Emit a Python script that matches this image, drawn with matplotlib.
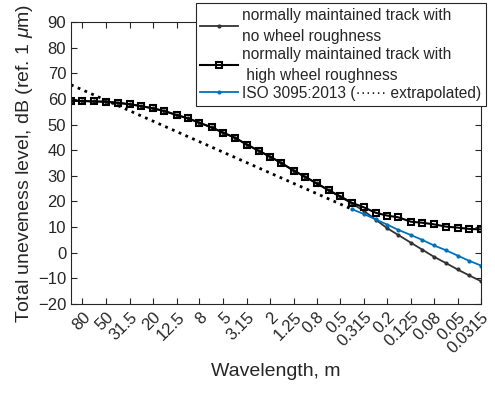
import numpy as np
import matplotlib
matplotlib.use("Agg")
import matplotlib.pyplot as plt
from matplotlib.ticker import FixedLocator, FixedFormatter, NullLocator

plt.rcParams['font.family'] = ['Liberation Sans', 'DejaVu Sans']
plt.rcParams['mathtext.fontset'] = 'custom'
plt.rcParams['mathtext.it'] = 'Liberation Sans:italic'

# one-third octave band wavelengths, m
wavelength = [100, 80, 63, 50, 40, 31.5, 25, 20, 16, 12.5, 10, 8, 6.3, 5, 4,
              3.15, 2.5, 2, 1.6, 1.25, 1, 0.8, 0.63, 0.5, 0.4, 0.315, 0.25,
              0.2, 0.16, 0.125, 0.1, 0.08, 0.063, 0.05, 0.04, 0.0315]

# track + high wheel roughness (squares)
high_wheel = [59.2, 59.2, 59.0, 58.9, 58.5, 57.9, 57.2, 56.3, 55.3, 53.7,
              52.4, 50.7, 48.9, 46.8, 44.9, 42.2, 39.8, 37.5, 35.0, 32.0,
              29.6, 27.1, 24.4, 22.0, 19.5, 17.7, 15.6, 14.5, 13.8, 12.1,
              11.7, 11.1, 10.2, 9.8, 9.3, 9.1]

# track, no wheel roughness
no_wheel = [59.2, 59.2, 59.0, 58.9, 58.5, 57.9, 57.2, 56.3, 55.3, 53.7,
            52.4, 50.7, 48.9, 46.8, 44.9, 42.2, 39.8, 37.5, 35.0, 32.0,
            29.6, 27.1, 24.3, 21.8, 19.2, 16.3, 12.9, 9.6, 6.9, 3.9,
            1.2, -1.5, -4.0, -6.5, -8.8, -11.1]

# ISO 3095:2013 limit
iso_wl = [0.4, 0.315, 0.25, 0.2, 0.16, 0.125, 0.1, 0.08, 0.063, 0.05, 0.04, 0.0315]
iso_val = [17.0, 15.1, 13.0, 11.0, 8.9, 6.9, 5.0, 2.9, 1.0, -1.1, -3.1, -5.0]

# extrapolated ISO
extrap_wl = [100, 0.4]
extrap_val = [65.5, 17.0]

tick_wl = [80, 50, 31.5, 20, 12.5, 8, 5, 3.15, 2, 1.25, 0.8, 0.5, 0.315,
           0.2, 0.125, 0.08, 0.05, 0.0315]
tick_labels = ['80', '50', '31.5', '20', '12.5', '8', '5', '3.15', '2', '1.25',
               '0.8', '0.5', '0.315', '0.2', '0.125', '0.08', '0.05', '0.0315']

dark = '#262626'
blue = '#0072BD'

fig = plt.figure(figsize=(4.95, 3.94), dpi=100)
ax = fig.add_axes([71/495, 1-304/394, 410/495, 282/394])

ax.plot(extrap_wl, extrap_val, color='black', ls=':', lw=2)
l1, = ax.plot(wavelength, no_wheel, color='#333333', lw=1.3, marker='.', ms=4)
l2, = ax.plot(wavelength, high_wheel, color='black', lw=1.5, marker='s', ms=5,
              mfc='none', mec='black', mew=1.5)
l3, = ax.plot(iso_wl, iso_val, color=blue, lw=1.3, marker='.', ms=4)

ax.set_xscale('log')
ax.set_xlim(100, 0.0315)
ax.set_ylim(-20, 90)
ax.set_yticks(np.arange(-20, 91, 10))
ax.xaxis.set_major_locator(FixedLocator(tick_wl))
ax.xaxis.set_major_formatter(FixedFormatter(tick_labels))
ax.xaxis.set_minor_locator(NullLocator())

ax.tick_params(direction='in', length=4, width=0.8, colors=dark,
               labelsize=12, top=True, right=True)
ax.tick_params(axis='x', pad=4)
for lab in ax.get_xticklabels():
    lab.set_rotation(45)
    lab.set_ha('right')
    lab.set_va('top')
    lab.set_rotation_mode('anchor')
for sp in ax.spines.values():
    sp.set_color(dark)
    sp.set_linewidth(0.8)

ax.set_xlabel('Wavelength, m', fontsize=14, color=dark, labelpad=5)
ax.set_ylabel(r'Total uneveness level, dB (ref. 1 $\mu$m)', fontsize=14,
              color=dark, labelpad=2)

leg = fig.legend([l1, l2, l3],
                 ['normally maintained track with\nno wheel roughness',
                  'normally maintained track with\n high wheel roughness',
                  'ISO 3095:2013 (\u00b7\u00b7\u00b7\u00b7\u00b7\u00b7 extrapolated)'],
                 loc='upper right', bbox_to_anchor=(486/495, 1-3/394),
                 fontsize=11.2, frameon=True, fancybox=False, framealpha=1,
                 edgecolor=dark, handlelength=2.4, handletextpad=0.3,
                 borderpad=0.3, labelspacing=0.2, borderaxespad=0)
leg.get_frame().set_linewidth(0.8)
for t in leg.get_texts():
    t.set_color(dark)
    t.set_linespacing(1.5)

fig.savefig('out.png', dpi=100)
